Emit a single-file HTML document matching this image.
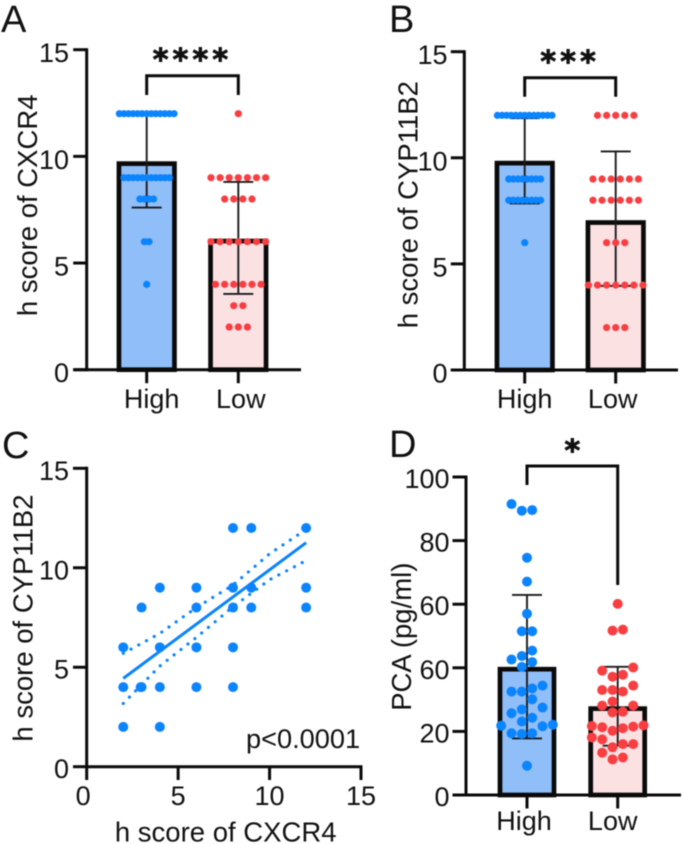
<!DOCTYPE html>
<html lang="en">
<head>
<meta charset="utf-8">
<title>h score and PCA charts</title>
<style>
html,body{margin:0;padding:0;background:#fff;}
svg{display:block;filter:blur(0.45px);}
text{font-family:"Liberation Sans",Arial,sans-serif;fill:#111;}
</style>
</head>
<body>
<svg id="figure" width="685" height="844" viewBox="0 0 685 844" xmlns="http://www.w3.org/2000/svg"></svg>
<script>
// Panel A values
const groupLabels = ['High', 'Low'];
const aTicks = [0, 5, 10, 15];
const aHigh = [12,12,12,12,12,12,12,12,12,12,12,12,12, 9,9,9,9,9,9,9,9,9,9,9, 8,8,8,8, 6,6, 4];
const aLow = [12, 9,9,9,9,9,9,9, 8,8,8,8, 6,6,6,6,6,6,6, 4,4,4,4,4,4, 3,3, 2,2,2];
const aMeans = [9.77, 6.14];
const aErrLower = [7.6, 3.55];
const aErrUpper = [11.97, 8.8];

// Panel B values
const bTicks = [0, 5, 10, 15];
const bHigh = [12,12,12,12,12,12,12,12,12,12,12,12,12, 9,9,9,9,9,9,9,9, 8,8,8,8,8,8,8,8, 6];
const bLow = [12,12,12,12,12, 9,9,9,9,9,9, 8,8,8,8,8,8, 6,6,6, 4,4,4,4,4,4,4, 2,2,2];
const bMeans = [9.86, 7.06];
const bErrLower = [7.85, 3.96];
const bErrUpper = [11.87, 10.3];

// Panel C values
const cTicks = [0, 5, 10, 15];
const cX = [2,2,2,3,3,2.95,4,4,4,4,6,6,6,6,8,8,8,8,8,9,9,9,12,12,12];
const cY = [6,4,2,8,4,4,9,6,4,2,9,8,6,4,12,9,8,6,4,12,9,8,12,9,8];
const cFitX = [2, 12];
const cFitY = [4.44, 11.26];
const cBandX = [2, 4, 6, 8, 10, 12];
const cBandUpper = [5.7, 6.7, 8.0, 9.13, 10.7, 11.93];
const cBandLower = [3.18, 5.06, 6.5, 8.04, 9.4, 10.36];

// Panel D values
const dTickValues = [0, 20, 40, 60, 80, 100];
const dTickLabels = ['0', '20', '60', '60', '80', '100'];
const dHigh = [91.5,89.6,89.4,74.6,67.1,57.0,51.5,51.5,45.4,43.7,42.6,41.8,40.3,34.4,33.5,32.5,32.5,30.1,27.5,26.9,25.7,24.3,23.1,22.1,21.8,21.6,19.4,19.4,19.2,9.2];
const dLow = [60.1,52.0,51.7,40.1,39.1,37.8,37.2,34.4,33.0,33.0,32.5,29.4,28.1,28.1,26.2,26.0,21.9,21.7,21.5,21.3,21.0,20.2,18.1,17.5,16.0,16.0,15.0,13.3,11.8,11.2];
const dMeans = [40.3, 27.9];
const dErrLower = [17.8, 15.5];
const dErrUpper = [62.9, 40.3];

const BLUE = '#0a84ff', RED = '#f93e42', BLUEFILL = '#90bef8', REDFILL = '#fce1e3', INK = '#0a0a0a';
const svg = document.getElementById('figure');
const NS = 'http://www.w3.org/2000/svg';

function el(tag, attrs, name, parent) {
  const node = document.createElementNS(NS, tag);
  for (const k in attrs) node.setAttribute(k, attrs[k]);
  
  
  (parent || svg).appendChild(node);
  return node;
}
function txt(str, x, y, size, anchor, name, parent, extra) {
  const t = el('text', Object.assign({x: x, y: y, 'font-size': size, 'text-anchor': anchor || 'start'}, extra || {}), name, parent);
  t.textContent = str;
  return t;
}
function line(x1, y1, x2, y2, w, name, parent, color) {
  return el('line', {x1: x1, y1: y1, x2: x2, y2: y2, stroke: color || INK, 'stroke-width': w}, name, parent);
}
function linear(d0, d1, r0, r1) {
  return function (v) { return r0 + (v - d0) * (r1 - r0) / (d1 - d0); };
}
function rowLayout(values, step) {
  const counts = {}, seen = {};
  values.forEach(function (v) { counts[v] = (counts[v] || 0) + 1; });
  return values.map(function (v) {
    seen[v] = (seen[v] || 0) + 1;
    return (seen[v] - 1 - (counts[v] - 1) / 2) * step;
  });
}
// Swarm: isolated values sit on the centre line; crowded values fill half-slots outward, lowest value first.
function swarmLayout(values, y, step, minDist, isolation) {
  const placed = [];
  const order = [-0.5, 0.5, -1.5, 1.5, -2.5, 2.5, -3.5, 3.5, -4.5, 4.5];
  const idx = values.map(function (v, i) { return i; }).sort(function (a, b) { return values[a] - values[b]; });
  const out = values.map(function () { return 0; });
  idx.forEach(function (i) {
    const v = values[i], py = y(v);
    const isolated = values.every(function (w, j) { return j === i || Math.abs(w - v) > isolation; });
    if (isolated) { placed.push([0, py]); return; }
    for (let k = 0; k < order.length; k++) {
      const ox = order[k] * step;
      const free = placed.every(function (p) { return Math.hypot(p[0] - ox, p[1] - py) >= minDist; });
      if (free) { placed.push([ox, py]); out[i] = ox; return; }
    }
  });
  return out;
}

function barPanel(cfg) {
  const g = el('g', {}, cfg.id + '-panel');
  const y = linear(cfg.yMin, cfg.yMax, cfg.y0, cfg.yTop);
  const sw = 4.7;
  txt(cfg.letter, cfg.letterX, cfg.letterY, 38, 'start', cfg.id + '-panel-label', g);
  // bars
  groupLabels.forEach(function (label, i) {
    const cx = cfg.centers[i], top = y(cfg.means[i]);
    el('rect', {x: cx - cfg.barW / 2, y: top + sw / 2, width: cfg.barW, height: Math.max(0, cfg.y0 - top - sw / 2),
      fill: i ? REDFILL : BLUEFILL, stroke: INK, 'stroke-width': sw}, cfg.id + '-bar-' + label.toLowerCase(), g);
  });
  // error bars
  groupLabels.forEach(function (label, i) {
    const cx = cfg.centers[i], lo = y(cfg.lower[i]), hi = y(cfg.upper[i]);
    const eg = el('g', {}, cfg.id + '-error-bar-' + label.toLowerCase(), g);
    line(cx, lo, cx, hi, 1.9, 'error-stem', eg, '#1a1a1a');
    line(cx - 15, lo, cx + 15, lo, 1.9, 'error-cap-lower', eg, '#1a1a1a');
    line(cx - 15, hi, cx + 15, hi, 1.9, 'error-cap-upper', eg, '#1a1a1a');
  });
  // axes
  line(cfg.axisX, cfg.yTop - 1.5, cfg.axisX, cfg.y0 + 1.5, 3, cfg.id + '-y-axis', g);
  line(cfg.axisX - 13.5, cfg.y0, cfg.xEnd, cfg.y0, 3, cfg.id + '-x-axis', g);
  cfg.ticks.forEach(function (v, i) {
    line(cfg.axisX - 13.5, y(v), cfg.axisX, y(v), 3, cfg.id + '-y-tick', g);
    txt(cfg.tickLabels ? cfg.tickLabels[i] : String(v), cfg.labelRight, y(v) + cfg.labelDy, 27, 'end', cfg.id + '-y-tick-label', g);
  });
  groupLabels.forEach(function (label, i) {
    line(cfg.centers[i], cfg.y0, cfg.centers[i], cfg.y0 + 13.5, 3, cfg.id + '-x-tick', g);
    txt(label, cfg.centers[i] + cfg.catDx[i], cfg.catY, 27, 'middle', cfg.id + '-x-label-' + label.toLowerCase(), g);
  });
  // dots
  [cfg.high, cfg.low].forEach(function (vals, i) {
    const dg = el('g', {}, cfg.id + '-dots-' + groupLabels[i].toLowerCase(), g);
    const offs = cfg.swarm ? swarmLayout(vals, y, 10.33, 10.2, 4) : rowLayout(vals, cfg.steps[i]);
    vals.forEach(function (v, j) {
      el('circle', {cx: cfg.centers[i] + offs[j], cy: y(v), r: cfg.r, fill: i ? RED : BLUE}, cfg.id + '-dot', dg);
    });
  });
  // bracket
  const bx0 = cfg.centers[0], bx1 = cfg.centers[1];
  el('path', {d: 'M' + bx0 + ' ' + cfg.brLeft + 'V' + cfg.brTop + 'H' + bx1 + 'V' + cfg.brRight, fill: 'none', stroke: INK, 'stroke-width': 3}, cfg.id + '-significance-bracket', g);
  txt(cfg.stars, (bx0 + bx1) / 2, cfg.starY, 30, 'middle', cfg.id + '-significance-stars', g,
    {stroke: '#111', 'stroke-width': 0.9, style: 'font-family:"DejaVu Sans",sans-serif;font-weight:bold;letter-spacing:' + cfg.starGap + 'px'});
  // title
  txt(cfg.title, 0, 0, 27.5, 'middle', cfg.id + '-y-axis-title', g,
    {transform: 'translate(' + cfg.titleX + ' ' + cfg.titleY + ') rotate(-90)'});
}

barPanel({id: 'a', letter: 'A', letterX: 1, letterY: 32, yMin: 0, yMax: 15, y0: 369.7, yTop: 49.7, axisX: 86.7, xEnd: 301,
  centers: [146.7, 238.3], barW: 55.5, means: aMeans, lower: aErrLower, upper: aErrUpper, ticks: aTicks,
  labelRight: 69, labelDy: 12.5, catDx: [5, 2.5], catY: 408, high: aHigh, low: aLow, steps: [4.55, 9.1], r: 3.6,
  brLeft: 95, brTop: 75.7, brRight: 95, stars: '****', starY: 70, starGap: 4.2, title: 'h score of CXCR4', titleX: 37, titleY: 205.3});

barPanel({id: 'b', letter: 'B', letterX: 389, letterY: 32, yMin: 0, yMax: 15, y0: 370, yTop: 51.7, axisX: 464.3, xEnd: 678,
  centers: [524.7, 615.7], barW: 55.5, means: bMeans, lower: bErrLower, upper: bErrUpper, ticks: bTicks,
  labelRight: 447.5, labelDy: 12.5, catDx: [0, -3], catY: 408, high: bHigh, low: bLow, steps: [4.55, 9.1], r: 3.6,
  brLeft: 96.7, brTop: 77.7, brRight: 96.7, stars: '***', starY: 72, starGap: 4.2, title: 'h score of CYP11B2', titleX: 417.7, titleY: 204.7});

barPanel({id: 'd', letter: 'D', letterX: 389, letterY: 457, yMin: 0, yMax: 100, y0: 795, yTop: 477, axisX: 466, xEnd: 681,
  centers: [527, 617.7], barW: 54, means: dMeans, lower: dErrLower, upper: dErrUpper, ticks: dTickValues, tickLabels: dTickLabels,
  labelRight: 449.5, labelDy: 11, catDx: [-3, -5], catY: 830, high: dHigh, low: dLow, swarm: true, r: 5,
  brLeft: 485, brTop: 466, brRight: 585, stars: '*', starY: 461, starGap: 0, title: 'PCA (pg/ml)', titleX: 411, titleY: 636.7});

// Panel C scatter
(function () {
  const g = el('g', {}, 'c-panel');
  const x = linear(0, 15, 86.7, 361);
  const y = linear(0, 15, 766.7, 468.3);
  txt('C', 2, 458, 38, 'start', 'c-panel-label', g);
  line(86.7, 468.3 - 1.5, 86.7, 768.2, 3, 'c-y-axis', g);
  line(86.7, 766.7, 362.5, 766.7, 3, 'c-x-axis', g);
  cTicks.forEach(function (v) {
    line(73, y(v), 86.7, y(v), 3, 'c-y-tick', g);
    txt(String(v), 69, y(v) + 11.5, 27, 'end', 'c-y-tick-label', g);
    line(x(v), 766.7, x(v), 780, 3, 'c-x-tick', g);
    txt(String(v), v === 0 ? x(v) - 3.5 : x(v), 805, 27, 'middle', 'c-x-tick-label', g);
  });
  const dg = el('g', {}, 'c-points', g);
  cX.forEach(function (v, i) {
    el('circle', {cx: x(v), cy: y(cY[i]), r: 5, fill: BLUE}, 'c-point', dg);
  });
  el('line', {x1: x(cFitX[0]), y1: y(cFitY[0]), x2: x(cFitX[1]), y2: y(cFitY[1]), stroke: BLUE, 'stroke-width': 3}, 'c-fit-line', g);
  const bandPath = function (arr) {
    return cBandX.map(function (v, i) { return (i ? 'L' : 'M') + x(v) + ' ' + y(arr[i]); }).join('');
  };
  el('path', {d: bandPath(cBandUpper), fill: 'none', stroke: BLUE, 'stroke-width': 3.2, 'stroke-linecap': 'round', 'stroke-dasharray': '0 8.8'}, 'c-confidence-upper', g);
  el('path', {d: bandPath(cBandLower), fill: 'none', stroke: BLUE, 'stroke-width': 3.2, 'stroke-linecap': 'round', 'stroke-dasharray': '0 8.8'}, 'c-confidence-lower', g);
  txt('p<0.0001', 246, 748, 27.2, 'start', 'c-p-value', g);
  txt('h score of CXCR4', 225.7, 841.5, 27.5, 'middle', 'c-x-axis-title', g);
  txt('h score of CYP11B2', 0, 0, 27.5, 'middle', 'c-y-axis-title', g, {transform: 'translate(32.7 618) rotate(-90)'});
})();
</script>
</body>
</html>
